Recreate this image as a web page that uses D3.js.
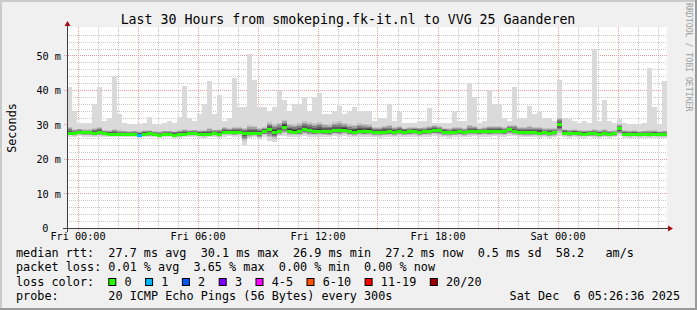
<!DOCTYPE html>
<html>
<head>
<meta charset="utf-8">
<script src="https://cdn.jsdelivr.net/npm/d3@7.9.0/dist/d3.min.js"></script>
<style>
  body { margin: 0; background: #f0f0f0; }
  svg text { font-family: "DejaVu Sans Mono", monospace; fill: #000; white-space: pre; }
</style>
</head>
<body>
<svg id="chart" width="697" height="310"></svg>
<script>
// 30 hours in 15 minute buckets (ms)
const median = [
  27.6, 27.5, 27.9, 27.7, 27.7, 27.6, 27.7, 27.4, 27.3, 27.2,
  27.2, 27.3, 27.2, 27.2, 27.1, 27.3, 27.4, 27.2, 26.9, 27.2,
  27.2, 27.1, 27.3, 27.3, 27.4, 27.5, 27.3, 27.2, 27.3, 27.4,
  27.3, 27.9, 27.8, 27.8, 27.9, 27.6, 27.4, 27.5, 27.6, 28.0,
  28.7, 27.9, 28.0, 29.3, 28.2, 27.9, 28.0, 28.6, 28.4, 28.1,
  28.2, 28.0, 28.1, 28.4, 28.3, 28.5, 28.0, 27.9, 28.2, 28.0,
  28.2, 27.9, 27.8, 27.9, 28.0, 27.8, 28.1, 27.9, 28.0, 28.1,
  27.9, 28.0, 28.1, 28.4, 28.3, 27.9, 27.8, 27.9, 28.0, 27.8,
  28.1, 28.2, 28.0, 28.1, 28.0, 28.2, 28.1, 28.0, 28.6, 28.2,
  27.9, 27.8, 27.7, 27.8, 27.6, 27.7, 27.5, 27.7, 30.1, 27.5,
  27.4, 27.6, 27.4, 27.3, 27.4, 27.4, 27.3, 27.4, 27.3, 27.4,
  28.9, 27.3, 27.2, 27.3, 27.2, 27.3, 27.2, 27.3, 27.2, 27.2
];
const minPing = [
  26.5, 26.4, 26.6, 26.5, 26.5, 26.4, 26.5, 26.4, 26.3, 26.4,
  26.3, 26.4, 26.3, 26.4, 26.2, 26.4, 26.3, 26.3, 26.2, 26.3,
  26.3, 26.2, 26.0, 26.3, 26.4, 26.3, 26.2, 26.1, 26.3, 26.4,
  26.0, 26.5, 26.6, 26.4, 26.5, 24.2, 26.1, 26.3, 25.5, 26.4,
  25.3, 25.0, 26.6, 26.8, 26.5, 26.5, 26.4, 26.6, 26.5, 26.4,
  26.5, 26.4, 26.3, 26.6, 26.5, 26.6, 26.4, 26.3, 26.5, 26.4,
  26.4, 26.3, 26.2, 26.4, 26.5, 26.3, 26.5, 26.4, 26.4, 26.5,
  26.3, 26.4, 26.5, 26.6, 26.5, 26.3, 26.2, 26.4, 26.4, 26.3,
  26.5, 26.6, 26.4, 26.5, 26.4, 26.6, 26.5, 26.4, 26.8, 26.6,
  26.4, 26.3, 26.3, 26.4, 26.2, 26.3, 26.2, 26.3, 26.6, 26.3,
  26.2, 26.3, 26.2, 26.2, 26.3, 26.2, 26.1, 26.3, 26.2, 26.3,
  26.6, 26.2, 26.1, 26.2, 26.1, 26.2, 26.2, 26.2, 26.1, 26.1
];
const upperQ = [
  29.2, 28.6, 28.8, 28.6, 28.6, 29.0, 29.2, 28.4, 28.4, 28.8,
  28.3, 28.2, 28.1, 28.2, 28.0, 28.3, 28.4, 28.1, 28.0, 28.2,
  28.2, 28.1, 28.4, 28.8, 28.4, 28.5, 28.3, 28.5, 28.9, 28.5,
  28.8, 29.2, 29.0, 29.4, 29.3, 29.0, 29.8, 29.6, 29.0, 29.4,
  30.6, 30.0, 30.5, 31.4, 30.2, 30.0, 30.4, 31.0, 30.6, 30.3,
  30.8, 30.2, 30.0, 30.6, 30.9, 30.5, 30.0, 29.8, 30.4, 30.2,
  30.0, 29.4, 29.2, 29.6, 29.8, 29.2, 29.6, 29.0, 29.2, 29.3,
  29.1, 29.3, 29.6, 29.8, 29.5, 29.0, 28.9, 29.4, 29.2, 28.9,
  29.8, 29.6, 29.0, 29.2, 29.6, 29.6, 29.5, 29.2, 29.8, 29.8,
  29.4, 29.2, 29.5, 29.3, 29.4, 29.0, 28.9, 29.0, 32.0, 28.8,
  28.5, 28.7, 28.4, 28.3, 28.4, 28.6, 28.3, 28.6, 28.2, 28.3,
  30.0, 28.4, 28.2, 28.3, 28.1, 28.2, 28.3, 28.4, 28.1, 28.2
];
const maxPing = [
  41, 34, 30.5, 30.5, 30.5, 36, 41, 31, 32, 44,
  33, 30.5, 30, 30, 30, 30.5, 32.3, 30, 30, 30.5,
  31, 30.5, 32.3, 41.2, 32, 31, 33, 36, 42.6, 33,
  38.5, 31, 32, 43.4, 35, 35, 50.3, 43, 35, 35,
  34, 35, 40, 37, 34, 36, 36, 38, 34, 38,
  39.2, 33, 33, 34, 35.5, 33, 34, 35, 34, 34,
  34, 31, 32, 32, 36, 31, 33.5, 30.5, 30.5, 30.5,
  31, 31, 34.7, 30.5, 30.5, 30.5, 30.5, 34, 31, 31,
  42, 38, 30.5, 31, 40, 36, 36, 32, 31, 41,
  32, 32, 35.5, 33, 34, 32, 32, 31, 43, 32,
  31.5, 31, 30.5, 31, 30.5, 52, 31, 37, 31, 30.5,
  31.5, 30.5, 30, 30, 30, 30.5, 46.5, 35, 30, 42.6
];
// buckets that lost pings, and how many
const lossIdx = [14];
const lossCount = [1];

const lossLabels = ['0', '1', '2', '3', '4-5', '6-10', '11-19', '20/20'];
const lossColors = ['#26ff00', '#00b8ff', '#0059ff', '#7e00ff', '#ff00ff', '#ff5500', '#ff0000', '#a10000'];

const xTickLabels = ['Fri 00:00', 'Fri 06:00', 'Fri 12:00', 'Fri 18:00', 'Sat 00:00'];
const yTicks = [0, 10, 20, 30, 40, 50];
const yTickLabels = ['0', '10 m', '20 m', '30 m', '40 m', '50 m'];

const legendLines = [
  'median rtt:  27.7 ms avg  30.1 ms max  26.9 ms min  27.2 ms now  0.5 ms sd  58.2   am/s',
  'packet loss: 0.01 % avg  3.65 % max  0.00 % min  0.00 % now'
];

const HOUR = 3600e3;
const STEP = 15 * 60e3;
const t0 = Date.UTC(2025, 11, 4, 23, 28, 30);
const t1 = t0 + 30 * HOUR;
const tickTimes = d3.utcHour.every(6).range(new Date(t0), new Date(t1));

const svg = d3.select('#chart');
const W = 697, H = 310;

const x = d3.scaleUtc().domain([t0, t1]).range([67, 667]);
const y = d3.scaleLinear().domain([0, 58.26]).range([228, 27]);

// frame
svg.append('rect').attr('width', W).attr('height', H).attr('fill', '#f0f0f0');
svg.append('path').attr('d', `M0,1H${W}M1,0V${H}`).attr('stroke', '#cbcbcb').attr('stroke-width', 2);
svg.append('path').attr('d', `M0,${H - 1}H${W}M${W - 1},0V${H}`).attr('stroke', '#999').attr('stroke-width', 2);

// plot canvas
svg.append('rect')
  .attr('x', 67).attr('y', 27)
  .attr('width', 600).attr('height', 201)
  .attr('fill', '#fff');

// grid
const grid = svg.append('g').attr('shape-rendering', 'crispEdges');
const yMinor = d3.range(2, 58, 2).filter(v => v % 10 !== 0);
grid.selectAll('.hm').data(yMinor).join('line')
  .attr('x1', 67).attr('x2', 667)
  .attr('y1', d => Math.round(y(d)) + 0.5).attr('y2', d => Math.round(y(d)) + 0.5)
  .attr('stroke', '#c8c8c8').attr('stroke-dasharray', '1,1');
const hours = d3.utcHour.range(new Date(t0), new Date(t1));
grid.selectAll('.vm').data(hours.filter(d => d.getUTCHours() % 3 !== 0)).join('line')
  .attr('y1', 27).attr('y2', 228)
  .attr('x1', d => Math.round(x(d)) + 0.5).attr('x2', d => Math.round(x(d)) + 0.5)
  .attr('stroke', '#c8c8c8').attr('stroke-dasharray', '1,1');
grid.selectAll('.hM').data(yTicks.slice(1)).join('line')
  .attr('x1', 64).attr('x2', 667)
  .attr('y1', d => Math.round(y(d)) + 0.5).attr('y2', d => Math.round(y(d)) + 0.5)
  .attr('stroke', '#eb9c9c').attr('stroke-dasharray', '1,1');
grid.selectAll('.vM').data(hours.filter(d => d.getUTCHours() % 3 === 0)).join('line')
  .attr('y1', 27).attr('y2', 231)
  .attr('x1', d => Math.round(x(d)) + 0.5).attr('x2', d => Math.round(x(d)) + 0.5)
  .attr('stroke', '#eb9c9c').attr('stroke-dasharray', '1,1');

// smoke
const cols = median.map((m, i) => ({
  t: t0 + i * STEP, med: m, lo: minPing[i], uq: upperQ[i], hi: maxPing[i], i
}));
const smoke = svg.append('g').attr('shape-rendering', 'crispEdges');
const colX = d => x(d.t);
const colW = d => x(d.t + STEP) - x(d.t);

smoke.selectAll('.outer').data(cols).join('rect')
  .attr('x', colX).attr('width', colW)
  .attr('y', d => y(d.hi)).attr('height', d => y(d.lo) - y(d.hi))
  .attr('fill', '#dadada');

const shades = ['#c4c4c4', '#a2a2a2', '#808080', '#5c5c5c', '#363636'];
shades.forEach((c, k) => {
  const f = 1 - k / shades.length;
  smoke.selectAll('.s' + k).data(cols).join('rect')
    .attr('x', colX).attr('width', colW)
    .attr('y', d => y(d.med + (d.uq - d.med) * f))
    .attr('height', d => y(d.med - (d.med - d.lo) * f * 0.7) - y(d.med + (d.uq - d.med) * f))
    .attr('fill', c);
});

// median, coloured by loss
const lossColor = i => {
  const j = lossIdx.indexOf(i);
  if (j < 0) return lossColors[0];
  const n = lossCount[j];
  const bin = n <= 3 ? n : n <= 5 ? 4 : n <= 10 ? 5 : n <= 19 ? 6 : 7;
  return lossColors[bin];
};
svg.append('g').attr('shape-rendering', 'crispEdges')
  .selectAll('rect').data(cols).join('rect')
  .attr('x', colX).attr('width', colW)
  .attr('y', d => Math.round(y(d.med)) - 1.5).attr('height', 3)
  .attr('fill', d => lossColor(d.i));

// axes
const axisCol = '#404040', arrowCol = '#a01010';
svg.append('line').attr('x1', 63).attr('x2', 668).attr('y1', 228.5).attr('y2', 228.5)
  .attr('stroke', axisCol);
svg.append('line').attr('x1', 67.5).attr('x2', 67.5).attr('y1', 232).attr('y2', 26)
  .attr('stroke', axisCol);
svg.append('path').attr('d', 'M668,225.5L673,228.5L668,231.5Z').attr('fill', arrowCol);
svg.append('path').attr('d', 'M64.5,26L67.5,21L70.5,26Z').attr('fill', arrowCol);

const xAxis = d3.axisBottom(x)
  .tickValues(tickTimes)
  .tickFormat((d, i) => xTickLabels[i])
  .tickSize(0).tickPadding(4);
svg.append('g').attr('transform', 'translate(0,229)').call(xAxis)
  .call(g => g.select('.domain').remove())
  .selectAll('text').attr('font-size', '10.2px').attr('font-family', 'DejaVu Sans Mono').attr('fill', '#000');

const yAxis = d3.axisLeft(y)
  .tickValues(yTicks)
  .tickFormat((d, i) => yTickLabels[i])
  .tickSize(0).tickPadding(6);
svg.append('g').attr('transform', 'translate(61,0)').call(yAxis)
  .call(g => g.select('.domain').remove())
  .selectAll('text').attr('font-size', '10.2px').attr('font-family', 'DejaVu Sans Mono').attr('fill', '#000')
  .attr('x', d => (d === 0 ? -12.5 : 0)).attr('dy', '0.36em');

// texts
svg.append('text').attr('x', 348).attr('y', 23.5).attr('text-anchor', 'middle')
  .attr('font-size', '13.25px')
  .text('Last 30 Hours from smokeping.fk-it.nl to VVG 25 Gaanderen');

svg.append('text').attr('transform', 'translate(15.5,128) rotate(-90)')
  .attr('text-anchor', 'middle').attr('font-size', '11.8px').text('Seconds');

svg.append('text').attr('transform', 'translate(686,3) rotate(90)')
  .attr('font-size', '8.2px').style('fill', '#a0a0a0').text('RRDTOOL / TOBI OETIKER');

const lg = svg.append('g').attr('font-size', '11.8px');
legendLines.forEach((s, i) => {
  lg.append('text').attr('x', 16).attr('y', 257 + i * 14.3).text(s);
});
lg.append('text').attr('x', 16).attr('y', 285.6).text('loss color:');
let lx = 108.3;
lossLabels.forEach((lab, i) => {
  lg.append('rect').attr('x', lx + 0.5).attr('y', 278.5).attr('width', 7).attr('height', 7)
    .attr('fill', lossColors[i]).attr('stroke', '#000').attr('stroke-width', 1);
  lg.append('text').attr('x', lx + 16.2).attr('y', 285.6).text(lab);
  lx += 29.7 + 7.1 * lab.length;
});
lg.append('text').attr('x', 16).attr('y', 300).text('probe:       20 ICMP Echo Pings (56 Bytes) every 300s');
lg.append('text').attr('x', 680).attr('y', 300).attr('text-anchor', 'end').text('Sat Dec  6 05:26:36 2025');
</script>
</body>
</html>
